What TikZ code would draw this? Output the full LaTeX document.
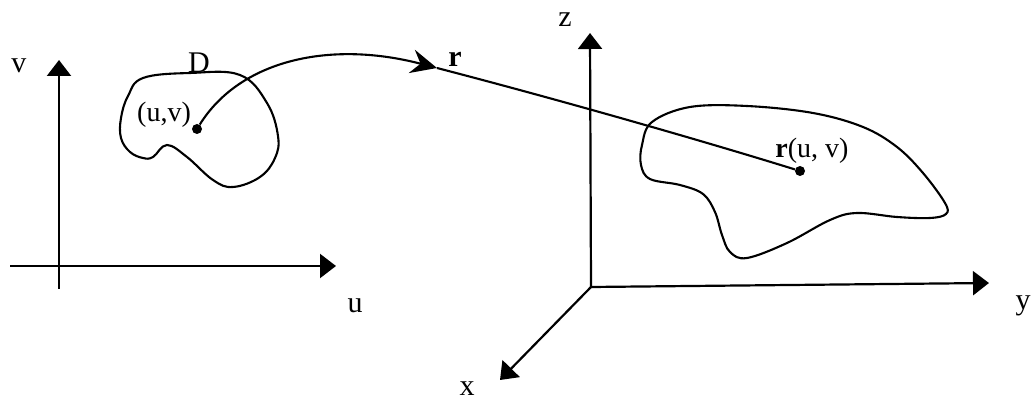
\documentclass[tikz,border=0pt]{standalone}
\usepackage{fontspec}
\setmainfont{Liberation Serif}
\usetikzlibrary{arrows.meta}
\begin{document}
\begin{tikzpicture}[x=1pt,y=-1pt,
  axis/.style={line width=2.2pt,-{Triangle[length=16pt,width=24pt]}},
  blob/.style={line width=2.1pt},
  dotnode/.style={circle,fill=black,inner sep=0pt,minimum size=10pt},
  axlabel/.style={inner sep=0pt,font=\fontsize{30}{30}\selectfont},
  txlabel/.style={inner sep=0pt,font=\fontsize{28}{28}\selectfont},
  conn/.style={line width=2.1pt}]
\useasboundingbox (0,0) rectangle (1034,403);
% left axes
\coordinate (hs) at (10,266);
\coordinate (he) at (336,266);
\coordinate (vs) at (59,289);
\coordinate (ve) at (59,60);
\draw[axis] (hs) -- (he);
\draw[axis] (vs) -- (ve);
\node[axlabel] (lv) at (19,66) {v};
\node[axlabel] (lu) at (355,306) {u};
% region D
\draw[blob] plot[smooth cycle,tension=0.65] coordinates {
 (143,78) (190,73) (240,75) (267,103) (278,136) (275,158) (260,177) (233,187)
 (213,180) (187,157) (167,145) (153,157) (143,158) (130,152) (121,138) (121,118) (128,96)};
\node[txlabel,font=\fontsize{30}{30}\selectfont] (lD) at (199,63) {D};
\node[txlabel] (luv) at (164,115) {(u,v)};
\node[dotnode] (p) at (197,129) {};
% 3D axes
\coordinate (o) at (591,287);
\coordinate (zt) at (590,33);
\coordinate (yt) at (989,283);
\coordinate (xt) at (500,380);
\draw[axis] (o) -- (zt);
\draw[axis] (o) -- (yt);
\draw[axis] (o) -- (xt);
\node[axlabel] (lz) at (565,20) {z};
\node[axlabel] (ly) at (1023,306) {y};
\node[axlabel] (lx) at (467,389) {x};
% surface
\draw[blob] plot[smooth cycle,tension=0.6] coordinates {
 (690,107) (747,106) (813,113) (863,127) (897,147) (923,173) (945,203) (946,214)
 (930,218) (897,217) (857,213) (830,220) (787,243) (747,258) (730,252) (722,235)
 (715,212) (703,194) (680,185) (650,179) (641,165) (642,145) (652,122)};
\node[dotnode] (q) at (800,171) {};
\node[txlabel] (lr) at (812,151) {\textbf{r}(u, v)};
% mapping
\coordinate (m) at (437,68);
\draw[conn,-{Stealth[length=26pt,width=24pt,inset=9pt]}] (p) .. controls (240,60) and (330,40) .. (m);
\draw[conn] (m) .. controls (560,100) and (700,140) .. (q);
\node[txlabel,font=\fontsize{30}{30}\selectfont\bfseries] (lrr) at (455,59) {r};
\end{tikzpicture}
\end{document}
